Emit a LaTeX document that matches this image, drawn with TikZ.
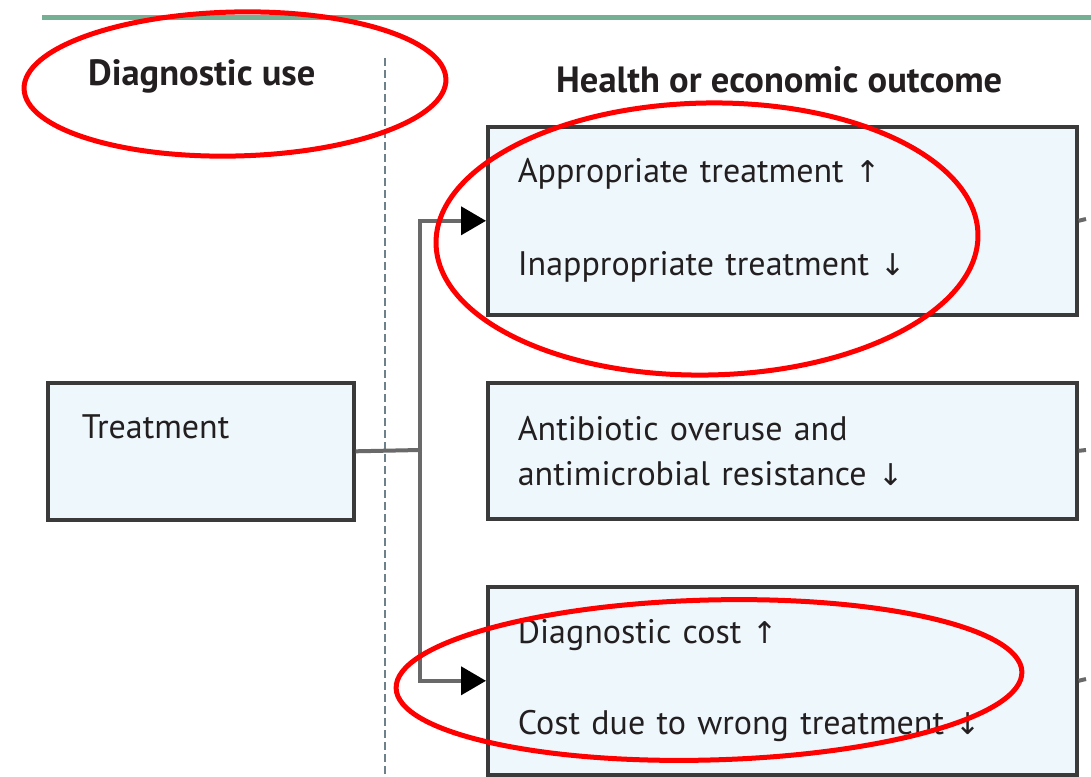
\documentclass[tikz,border=0pt]{standalone}
\usepackage{fontspec}
\usepackage{amsmath}
\setmainfont{PT Sans}
\newfontfamily\arrowfont{DejaVu Sans}
\newcommand{\arrup}{{\arrowfont\fontsize{30}{45}\selectfont ↑}}
\newcommand{\arrdown}{{\arrowfont\fontsize{30}{45}\selectfont ↓}}
\usetikzlibrary{arrows.meta}

\definecolor{rulegreen}{RGB}{118,176,148}
\definecolor{boxfill}{RGB}{238,247,251}
\definecolor{boxline}{RGB}{58,58,58}
\definecolor{linkgray}{RGB}{105,105,105}
\definecolor{divgray}{RGB}{110,128,138}
\definecolor{txt}{RGB}{35,31,32}

\begin{document}
\begin{tikzpicture}[x=1pt,y=-1pt,
				txtfont/.style={font=\fontsize{34}{45}\selectfont, text=txt},
				outbox/.style={txtfont, draw=boxline, fill=boxfill, line width=3.6pt, align=left,
					anchor=north west, inner xsep=30pt, inner ysep=0pt, text width=529pt},
				head/.style={text=txt, font=\fontsize{36.5}{45}\selectfont\bfseries, anchor=base west, inner sep=0pt},
				link/.style={draw=linkgray, line width=4pt},
				redring/.style={draw=red, line width=5pt}]
				\useasboundingbox (0,0) rectangle (1091,776);
				% top rule and divider
				\draw[rulegreen, line width=5pt] (42,18) -- (1091,18);
				\draw[divgray, line width=2.8pt, dash pattern=on 8pt off 4pt] (385,58) -- (385,776);
				% headings
				\node[head] (use) at (88,85) {Diagnostic use};
				\node[head] (outcome) at (556,92) {Health or economic outcome};
				% boxes
				\node[outbox, text width=238pt, inner xsep=34pt, inner ysep=30pt,
					text height=26pt, text depth=51pt] (treat) at (46,381) {Treatment};
				\node[outbox, minimum height=188pt] (outA) at (486,125)
					{Appropriate treatment \arrup\\[48pt]Inappropriate treatment \arrdown};
				\node[outbox, minimum height=136pt] (outB) at (486,381)
					{Antibiotic overuse and\\antimicrobial resistance \arrdown};
				\node[outbox, minimum height=188pt] (outC) at (486,585)
					{Diagnostic cost \arrup\\[46pt]Cost due to wrong treatment \arrdown};
				\coordinate (split) at (420,450);
				\coordinate (endA) at (1086,219);
				\coordinate (endB) at (1086,450);
				\coordinate (endC) at (1086,679);
				% connectors
				\path[link]
				(treat.east) edge (split)
				(outA.east) edge (endA)
				(outB.east) edge (endB)
				(outC.east) edge (endC);
				\draw[link, -{Triangle[length=25pt, width=28pt, color=black]}] (split) |- (outA.west);
				\draw[link, -{Triangle[length=25pt, width=28pt, color=black]}] (split) |- (outC.west);
				% red marks
				\draw[redring, rotate around={1.3:(235,84)}] (235,84) ellipse [x radius=211pt, y radius=72pt];
				\draw[redring, rotate around={1:(707,239)}] (707,239) ellipse [x radius=271pt, y radius=136pt];
				\draw[redring, rotate around={1.5:(709,680)}] (709,680) ellipse [x radius=313pt, y radius=80pt];
			\end{tikzpicture}
\end{document}
